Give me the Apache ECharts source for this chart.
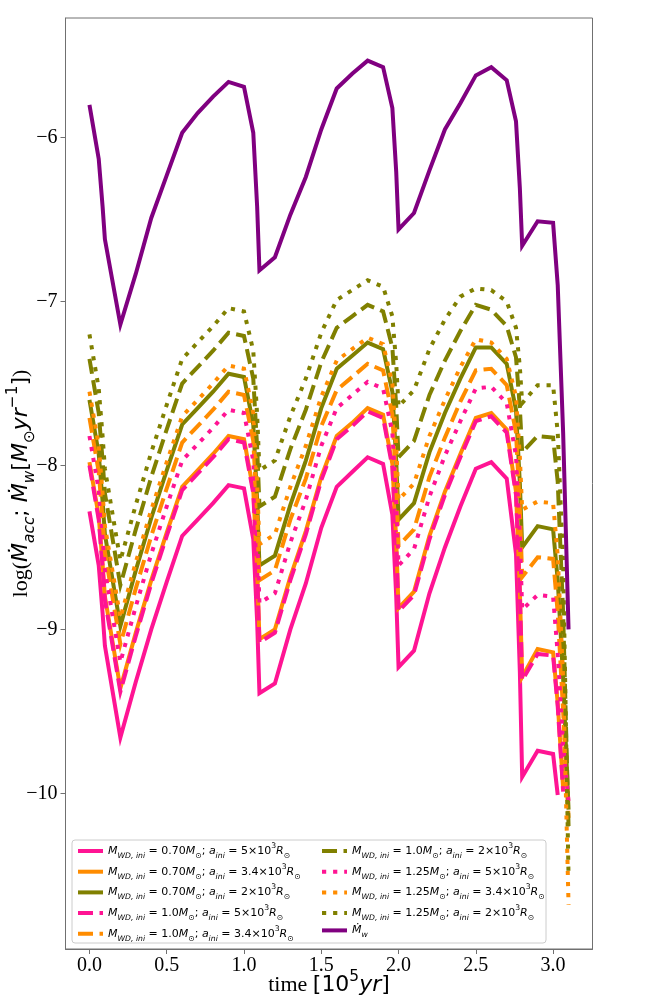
<!DOCTYPE html>
<html><head><meta charset="utf-8">
<script src="https://cdn.jsdelivr.net/npm/echarts@6/dist/echarts.min.js"></script>
<style>html,body{margin:0;padding:0;background:#fff}#c{width:658px;height:1006px}</style>
</head><body><div id="c"></div>
<script>
// time grid [10^5 yr]
const T = [0, 0.06, 0.085, 0.1, 0.2, 0.3, 0.4, 0.5, 0.6, 0.7, 0.8, 0.9, 1.0, 1.06, 1.085, 1.1, 1.2, 1.3, 1.4, 1.5, 1.6, 1.7, 1.8, 1.9, 1.96, 1.985, 2.0, 2.1, 2.2, 2.3, 2.4, 2.5, 2.6, 2.7, 2.76, 2.785, 2.8, 2.9, 3.0, 3.03, 3.065, 3.1];

// M=0.70, a=5e3
const ACC_070_5 = [-8.28,-8.61,-8.90,-9.10, -9.66,-9.32,-9.00,-8.71,-8.43,-8.33,-8.23,-8.12,-8.14, -8.45,-8.95,-9.39, -9.33,-9.00,-8.72,-8.38,-8.13,-8.04,-7.95,-7.99, -8.30,-8.80,-9.23, -9.13,-8.78,-8.50,-8.25,-8.02,-7.98,-8.08, -8.54,-9.26,-9.90, -9.74,-9.76, -10.01,null,null];
// M=0.70, a=3.4e3
const ACC_070_34 = [-7.98,-8.31,-8.60,-8.80, -9.36,-9.02,-8.70,-8.41,-8.13,-8.03,-7.93,-7.82,-7.84, -8.15,-8.63,-9.06, -9.00,-8.68,-8.40,-8.07,-7.82,-7.74,-7.65,-7.69, -7.99,-8.46,-8.87, -8.77,-8.43,-8.16,-7.93,-7.71,-7.68,-7.78, -8.16,-8.76,-9.29, -9.12,-9.14, -9.45,-9.97,null];
// M=0.70, a=2e3
const ACC_070_2 = [-7.60,-7.93,-8.22,-8.42, -8.98,-8.64,-8.32,-8.03,-7.75,-7.65,-7.55,-7.44,-7.46, -7.75,-8.21,-8.61, -8.55,-8.24,-7.97,-7.65,-7.41,-7.33,-7.25,-7.29, -7.55,-7.97,-8.33, -8.23,-7.92,-7.68,-7.47,-7.28,-7.28,-7.38, -7.66,-8.11,-8.50, -8.37,-8.39, -8.70,-9.30,-10.10];
// M=1.0, a=5e3
const ACC_100_5 = [-8.00,-8.33,-8.62,-8.82, -9.38,-9.04,-8.72,-8.43,-8.15,-8.05,-7.95,-7.84,-7.86, -8.17,-8.65,-9.08, -9.02,-8.70,-8.42,-8.09,-7.84,-7.76,-7.67,-7.71, -8.01,-8.48,-8.89, -8.79,-8.45,-8.18,-7.95,-7.73,-7.70,-7.80, -8.18,-8.78,-9.31, -9.15,-9.16, -9.47,-9.99,null];
// M=1.0, a=3.4e3
const ACC_100_34 = [-7.71,-8.04,-8.33,-8.53, -9.09,-8.75,-8.43,-8.14,-7.86,-7.76,-7.66,-7.55,-7.57, -7.85,-8.30,-8.70, -8.64,-8.33,-8.08,-7.76,-7.54,-7.46,-7.38,-7.42, -7.69,-8.12,-8.49, -8.39,-8.07,-7.83,-7.61,-7.42,-7.41,-7.51, -7.80,-8.27,-8.68, -8.56,-8.57, -8.90,-9.50,-10.15];
// M=1.0, a=2e3
const ACC_100_2 = [-7.35,-7.68,-7.97,-8.17, -8.73,-8.39,-8.07,-7.78,-7.50,-7.40,-7.30,-7.19,-7.21, -7.47,-7.89,-8.25, -8.19,-7.90,-7.66,-7.37,-7.16,-7.09,-7.02,-7.06, -7.28,-7.64,-7.95, -7.85,-7.57,-7.36,-7.18,-7.02,-7.05,-7.15, -7.34,-7.65,-7.92, -7.82,-7.83, -8.10,-8.90,-10.20];
// M=1.25, a=5e3
const ACC_125_5 = [-7.82,-8.15,-8.44,-8.64, -9.20,-8.86,-8.54,-8.25,-7.97,-7.87,-7.77,-7.66,-7.68, -7.97,-8.43,-8.84, -8.78,-8.47,-8.21,-7.88,-7.65,-7.57,-7.49,-7.53, -7.80,-8.23,-8.61, -8.51,-8.19,-7.94,-7.73,-7.53,-7.52,-7.62, -7.94,-8.44,-8.88, -8.79,-8.80, -9.15,-9.70,-10.05];
// M=1.25, a=3.4e3
const ACC_125_34 = [-7.55,-7.88,-8.17,-8.37, -8.93,-8.59,-8.27,-7.98,-7.70,-7.60,-7.50,-7.39,-7.41, -7.68,-8.11,-8.48, -8.42,-8.13,-7.88,-7.58,-7.36,-7.29,-7.22,-7.26, -7.50,-7.88,-8.21, -8.11,-7.82,-7.60,-7.40,-7.23,-7.25,-7.35, -7.58,-7.95,-8.27, -8.22,-8.23, -8.55,-9.30,-10.68];
// M=1.25, a=2e3
const ACC_125_2 = [-7.20,-7.53,-7.82,-8.02, -8.58,-8.24,-7.92,-7.63,-7.35,-7.25,-7.15,-7.04,-7.06, -7.30,-7.69,-8.03, -7.97,-7.70,-7.47,-7.19,-6.99,-6.93,-6.87,-6.91, -7.09,-7.38,-7.64, -7.54,-7.29,-7.11,-6.97,-6.92,-6.93,-7.00, -7.16,-7.40,-7.62, -7.51,-7.51, -7.80,-8.60,-10.51];
// wind mass-loss rate
const MDOT_W = [-5.80,-6.13,-6.42,-6.62, -7.14,-6.83,-6.49,-6.23,-5.97,-5.85,-5.75,-5.66,-5.69, -5.97,-6.42,-6.81, -6.73,-6.47,-6.24,-5.95,-5.70,-5.61,-5.53,-5.57, -5.82,-6.21,-6.56, -6.46,-6.20,-5.95,-5.79,-5.62,-5.57,-5.65, -5.90,-6.31,-6.66, -6.51,-6.52, -6.90,-7.80,-9.00];

const X_TICKS = [0, 0.5, 1.0, 1.5, 2.0, 2.5, 3.0];
const Y_TICKS = [-10, -9, -8, -7, -6];
const MASS_LABELS = ['0.70','0.70','0.70','1.0','1.0','1.0','1.25','1.25','1.25'];
const SEP_LABELS  = ['5','3.4','2','5','3.4','2','5','3.4','2'];

const PINK = '#FF1493', ORANGE = '#FF8C00', OLIVE = '#808000', PURPLE = '#800080';
const DASH = [15, 6.5], DOT = [4.2, 6.9];

const ACC = [ACC_070_5, ACC_070_34, ACC_070_2, ACC_100_5, ACC_100_34, ACC_100_2, ACC_125_5, ACC_125_34, ACC_125_2];
const ACC_COLORS = [PINK, ORANGE, OLIVE, PINK, ORANGE, OLIVE, PINK, ORANGE, OLIVE];
const ACC_DASH = ['solid','solid','solid', DASH, DASH, DASH, DOT, DOT, DOT];

const names = ACC.map((_, i) => 'acc' + i).concat(['mw']);

function legendText(name) {
  if (name === 'mw') return '{i|Ṁ}{s|w}';
  const k = +name.slice(3);
  return '{i|M}{s|WD, ini}{n| = ' + MASS_LABELS[k] + '}{i|M}{o|⊙}{n|; }{i|a}{s|ini}{n| = ' +
    SEP_LABELS[k] + '×10}{p|3}{i|R}{o|⊙}';
}

const series = ACC.map((arr, i) => ({
  name: names[i], type: 'line', symbol: 'none', animation: false,
  data: T.map((t, j) => [t, arr[j]]),
  connectNulls: false,
  lineStyle: { color: ACC_COLORS[i], width: 4, type: ACC_DASH[i], cap: 'butt', join: 'miter' },
  itemStyle: { color: ACC_COLORS[i] },
  z: 2
}));
series.push({
  name: 'mw', type: 'line', symbol: 'none', animation: false,
  data: T.map((t, j) => [t, MDOT_W[j]]),
  lineStyle: { color: PURPLE, width: 4, type: 'solid', join: 'miter' },
  itemStyle: { color: PURPLE }, z: 2
});

const FS = 11;
const legRich = {
  n: { fontFamily: 'DejaVu Sans', fontSize: FS, lineHeight: 18, color: '#000' },
  i: { fontFamily: 'DejaVu Sans', fontStyle: 'italic', fontSize: FS, lineHeight: 18, color: '#000' },
  s: { fontFamily: 'DejaVu Sans', fontStyle: 'italic', fontSize: 7.7, lineHeight: 11, verticalAlign: 'bottom', color: '#000' },
  o: { fontFamily: 'DejaVu Sans', fontSize: 7.7, lineHeight: 11, verticalAlign: 'bottom', color: '#000' },
  p: { fontFamily: 'DejaVu Sans', fontSize: 7.7, lineHeight: 11, verticalAlign: 'top', color: '#000' }
};
function mkLegend(data, left) {
  return {
    data: data, left: left, top: 842, orient: 'vertical', padding: 0,
    itemWidth: 25, itemHeight: 14, itemGap: 2.7, selectedMode: false,
    lineStyle: { width: 4 },
    itemStyle: { color: 'rgba(0,0,0,0)', borderWidth: 0, opacity: 0 },
    formatter: legendText,
    textStyle: { rich: legRich, fontFamily: 'DejaVu Sans', fontSize: FS },
    z: 5
  };
}

const nameRich = {
  r: { fontFamily: 'Liberation Serif', fontSize: 22, lineHeight: 32, color: '#000' },
  n: { fontFamily: 'DejaVu Sans', fontSize: 22, lineHeight: 32, color: '#000' },
  i: { fontFamily: 'DejaVu Sans', fontStyle: 'italic', fontSize: 22, lineHeight: 32, color: '#000' },
  s: { fontFamily: 'DejaVu Sans', fontStyle: 'italic', fontSize: 15.4, lineHeight: 19, verticalAlign: 'bottom', color: '#000' },
  o: { fontFamily: 'DejaVu Sans', fontSize: 15.4, lineHeight: 19, verticalAlign: 'bottom', color: '#000' },
  p: { fontFamily: 'DejaVu Sans', fontSize: 15.4, lineHeight: 18, verticalAlign: 'top', color: '#000' }
};

const AX = '#707070';
const minus = v => (v < 0 ? '\u2212' + Math.abs(v) : String(v));

const chart = echarts.init(document.getElementById('c'), null, { renderer: 'canvas' });
chart.setOption({
  backgroundColor: '#fff',
  animation: false,
  grid: { left: 65.5, top: 18, width: 527, height: 931, show: true, borderColor: AX, borderWidth: 1,
          backgroundColor: 'transparent', containLabel: false, outerBoundsMode: 'none' },
  xAxis: {
    type: 'value', min: -0.155, max: 3.255,
    axisLine: { show: true, onZero: false, lineStyle: { color: AX, width: 1 } },
    axisTick: { show: true, length: 5, lineStyle: { color: AX }, customValues: X_TICKS },
    axisLabel: { customValues: X_TICKS, formatter: v => v.toFixed(1), fontFamily: 'Liberation Serif', fontSize: 20, color: '#000', margin: 7 },
    splitLine: { show: false },
    name: '{r|time }{n|[10}{p|5}{i|yr}{n|]}',
    nameLocation: 'middle', nameGap: 20, nameMoveOverlap: false,
    nameTextStyle: { rich: nameRich, fontSize: 22 }
  },
  yAxis: {
    type: 'value', min: -10.95, max: -5.27,
    axisLine: { show: true, onZero: false, lineStyle: { color: AX, width: 1 } },
    axisTick: { show: true, length: 5, lineStyle: { color: AX }, customValues: Y_TICKS },
    axisLabel: { customValues: Y_TICKS, formatter: minus, fontFamily: 'Liberation Serif', fontSize: 20, color: '#000', margin: 8 },
    splitLine: { show: false },
    name: '{r|log(}{i|Ṁ}{s|acc}{n|; }{i|Ṁ}{s|w}{n|[}{i|M}{o|⊙}{i|yr}{p|−1}{n|]}{r|)}',
    nameLocation: 'middle', nameRotate: 90, nameGap: 28, nameMoveOverlap: false,
    nameTextStyle: { rich: nameRich, fontSize: 22 }
  },
  legend: [
    mkLegend(names.slice(0, 5), 76),
    mkLegend(names.slice(5), 320)
  ],
  graphic: [{
    type: 'rect', z: 4, silent: true,
    shape: { x: 72, y: 840, width: 474, height: 103, r: 3 },
    style: { fill: 'rgba(255,255,255,0.8)', stroke: '#cccccc', lineWidth: 1 }
  }],
  series: series
});
</script></body></html>
